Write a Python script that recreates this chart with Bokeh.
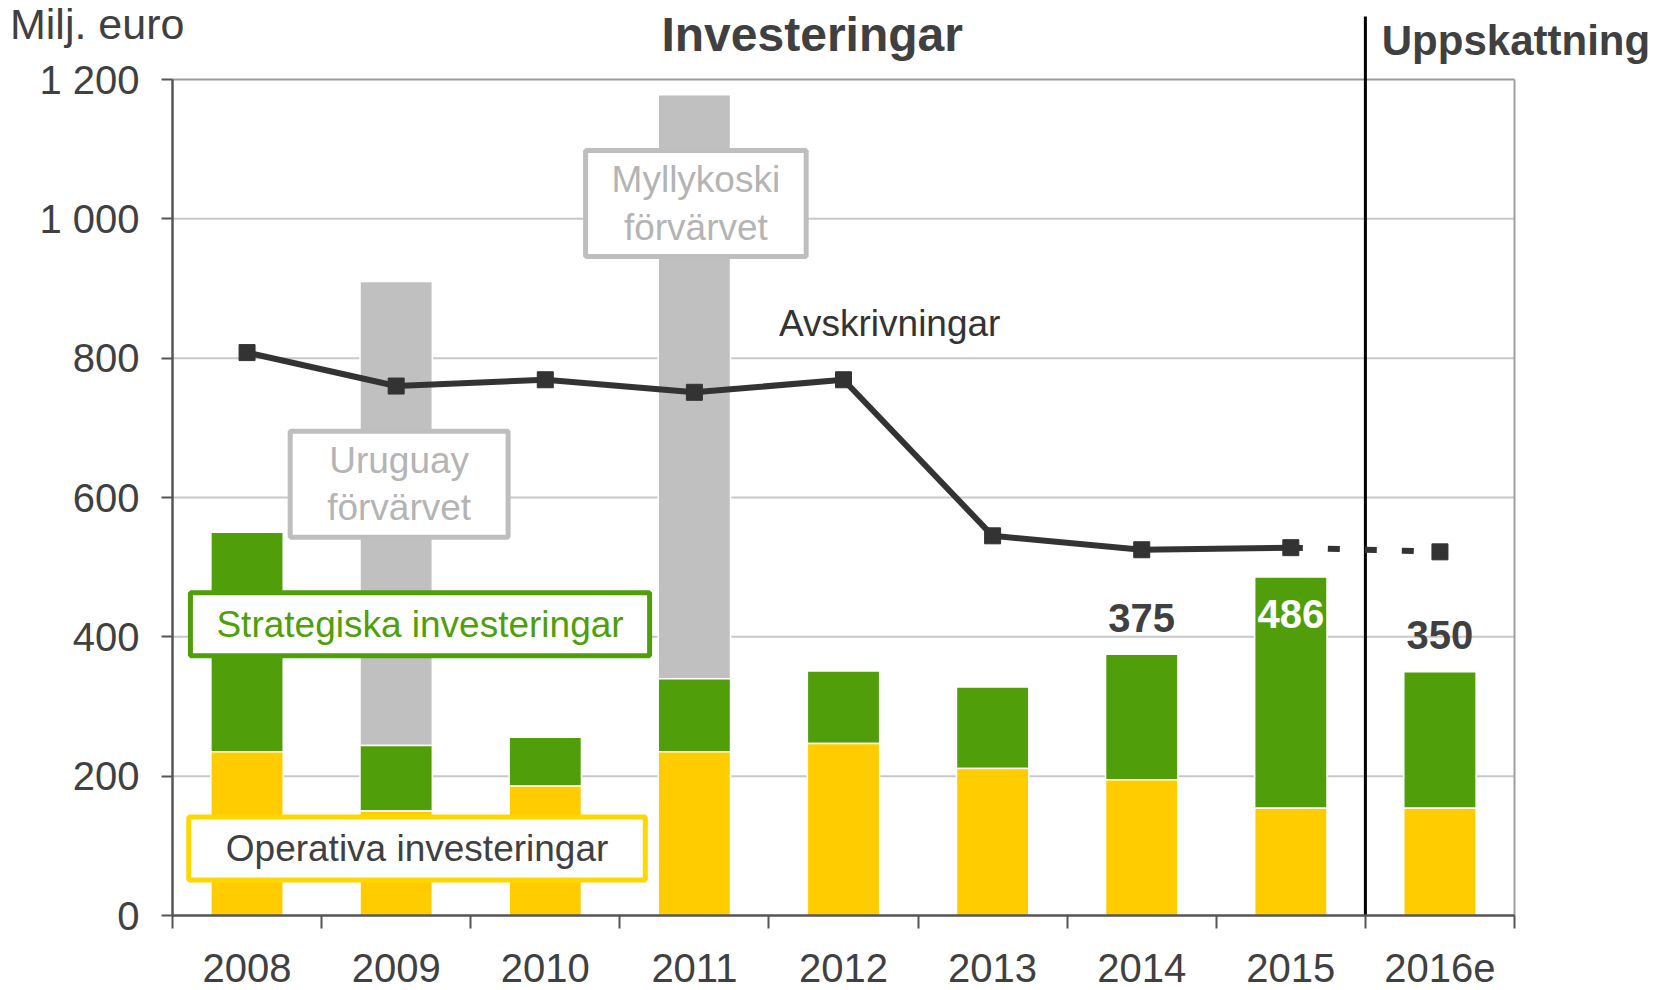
from bokeh.plotting import figure
from bokeh.models import FixedTicker, Label, Range1d, ColumnDataSource
from bokeh.embed import file_html
from bokeh.resources import INLINE

# ---- data ----
years = ["2008", "2009", "2010", "2011", "2012", "2013", "2014", "2015", "2016e"]
operativa = [235, 150, 186, 235, 247, 211, 195, 154, 154]
strategiska = [315, 94, 70, 105, 104, 117, 180, 332, 196]
forvarv = [0, 666, 0, 838, 0, 0, 0, 0, 0]
avskrivningar = [808, 760, 769, 751, 769, 545, 525, 528, 522]
y_ticks = [0, 200, 400, 600, 800, 1000, 1200]
y_tick_labels = ["0", "200", "400", "600", "800", "1 000", "1 200"]
value_label_years = ["2014", "2015", "2016e"]

FONT = "Liberation Sans"
DARK = "#404040"
YELLOW = "#FFCC00"
GREEN = "#4F9E0A"
GREY = "#C0C0C0"
Y_MAX = 1200

n = len(years)
xs = [i + 0.5 for i in range(n)]
top_op = operativa
top_st = [a + b for a, b in zip(operativa, strategiska)]
top_fv = [a + b for a, b in zip(top_st, forvarv)]

# canvas layout: plot area spans px 172..1514 horizontally, 915..79 vertically
W_PX, H_PX = 1669, 990
L_PX, R_PX, B_PX, T_PX = 172, 1514, 915, 79
kx = (R_PX - L_PX) / n
ky = (B_PX - T_PX) / Y_MAX
x_range = Range1d(-L_PX / kx, (W_PX - L_PX) / kx)
y_range = Range1d(-(H_PX - B_PX) / ky, B_PX / ky)

p = figure(width=W_PX, height=H_PX, output_backend="svg", toolbar_location=None,
           x_range=x_range, y_range=y_range,
           min_border_left=0, min_border_right=0, min_border_top=0, min_border_bottom=0)
p.outline_line_color = None
p.background_fill_color = "white"
p.border_fill_color = "white"
p.xgrid.visible = False
p.ygrid.visible = False

# axes, fixed at the data origin
p.xaxis.fixed_location = 0
p.xaxis.bounds = (0, n)
p.xaxis.ticker = FixedTicker(ticks=xs, minor_ticks=list(range(n + 1)))
p.xaxis.major_label_overrides = {x: y for x, y in zip(xs, years)}
p.xaxis.major_tick_line_color = None
p.xaxis.major_tick_out = 0
p.xaxis.major_tick_in = 0
p.xaxis.minor_tick_out = 13
p.xaxis.minor_tick_in = 0
p.xaxis.minor_tick_line_color = "#555555"
p.xaxis.minor_tick_line_width = 2
p.xaxis.axis_line_color = "#555555"
p.xaxis.axis_line_width = 2.5
p.xaxis.major_label_standoff = 25
p.xaxis.major_label_text_font = FONT
p.xaxis.major_label_text_font_size = "40px"
p.xaxis.major_label_text_color = DARK

p.yaxis.fixed_location = 0
p.yaxis.bounds = (0, Y_MAX)
p.yaxis.ticker = FixedTicker(ticks=y_ticks)
p.yaxis.major_label_overrides = {t: l for t, l in zip(y_ticks, y_tick_labels)}
p.yaxis.major_tick_out = 11
p.yaxis.major_tick_in = 0
p.yaxis.major_tick_line_color = "#555555"
p.yaxis.major_tick_line_width = 2
p.yaxis.minor_tick_line_color = None
p.yaxis.axis_line_color = "#555555"
p.yaxis.axis_line_width = 2.5
p.yaxis.major_label_standoff = 22
p.yaxis.major_label_text_font = FONT
p.yaxis.major_label_text_font_size = "40px"
p.yaxis.major_label_text_color = DARK

# gridlines (bounded to plot area) + frame top/right
grid_y = [t for t in y_ticks if 0 < t < Y_MAX]
p.segment(x0=[0] * len(grid_y), y0=grid_y, x1=[n] * len(grid_y), y1=grid_y,
          line_color="#C8C8C8", line_width=2)
p.segment(x0=[0], y0=[Y_MAX], x1=[n], y1=[Y_MAX], line_color="#999999", line_width=2)
p.segment(x0=[n], y0=[0], x1=[n], y1=[Y_MAX], line_color="#A0A0A0", line_width=2)

src = ColumnDataSource(dict(x=xs, op=top_op, st=top_st, fv=top_fv))
W = 0.485
p.vbar(x="x", bottom="st", top="fv", width=W, source=src, fill_color=GREY, line_color="white", line_width=1.5)
p.vbar(x="x", bottom="op", top="st", width=W, source=src, fill_color=GREEN, line_color="white", line_width=1.5)
p.vbar(x="x", bottom=0, top="op", width=W, source=src, fill_color=YELLOW, line_color="white", line_width=1.5)

# forecast separator line
p.segment(x0=[n - 1], y0=[0], x1=[n - 1], y1=[(B_PX - 16) / ky], line_color="black", line_width=3)

# depreciation line
p.line(xs[:-1], avskrivningar[:-1], line_color="#333333", line_width=6)
p.line(xs[-2:], avskrivningar[-2:], line_color="#333333", line_width=6, line_dash="12 25")
p.scatter(xs, avskrivningar, marker="square", size=16, fill_color="#333333", line_color="#333333")

# value labels
for yl in value_label_years:
    i = years.index(yl)
    inside = yl == "2015"
    p.add_layout(Label(x=xs[i], y=top_st[i] + (-53 if inside else 52), text=str(top_st[i]),
                       text_align="center", text_baseline="middle", text_font=FONT,
                       text_font_size="40px", text_font_style="bold",
                       text_color="white" if inside else DARK))


def box(x, y, text, color, tcolor, pl, pt):
    p.add_layout(Label(x=x, y=y, text=text, text_align="center", text_baseline="middle",
                       text_font=FONT, text_font_size="37px", text_color=tcolor,
                       text_line_height=1.15,
                       background_fill_color="white", border_line_color=color, border_line_width=5,
                       padding=dict(left=pl, right=pl, top=pt, bottom=pt)))


box(1.52, 619, "Uruguay\nförvärvet", "#BEBEBE", "#B4B4B4", 37, 9)
box(3.51, 1022, "Myllykoski\nförvärvet", "#BEBEBE", "#B4B4B4", 26, 9)
box(1.66, 418, "Strategiska investeringar", GREEN, GREEN, 26, 11)
box(1.64, 96, "Operativa investeringar", "#FFD700", DARK, 37, 11)

p.add_layout(Label(x=4.81, y=850, text="Avskrivningar", text_align="center", text_baseline="middle",
                   text_font=FONT, text_font_size="37px", text_color="#333333"))
p.add_layout(Label(x=4.29, y=1265, text="Investeringar", text_align="center", text_baseline="middle",
                   text_font=FONT, text_font_size="48px", text_font_style="bold", text_color=DARK))
p.add_layout(Label(x=8.11, y=1256, text="Uppskattning", text_align="left", text_baseline="middle",
                   text_font=FONT, text_font_size="42px", text_font_style="bold", text_color=DARK))
p.add_layout(Label(x=-1.09, y=1280, text="Milj. euro", text_align="left", text_baseline="middle",
                   text_font=FONT, text_font_size="43px", text_color=DARK))

open("out.html", "w").write(file_html(p, INLINE))
